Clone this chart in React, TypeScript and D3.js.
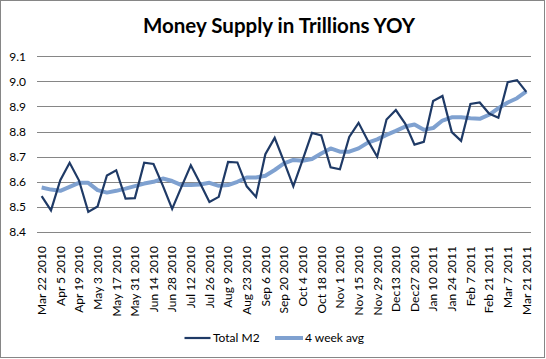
import React from "react";
import * as d3 from "d3";

const categories: string[] = [
  "Mar 22 2010", "Mar 29 2010", "Apr 5 2010", "Apr 12 2010", "Apr 19 2010", "Apr 26 2010",
  "May 3 2010", "May 10 2010", "May 17 2010", "May 24 2010", "May 31 2010", "Jun 7 2010",
  "Jun 14 2010", "Jun 21 2010", "Jun 28 2010", "Jul 5 2010", "Jul 12 2010", "Jul 19 2010",
  "Jul 26 2010", "Aug 2 2010", "Aug 9 2010", "Aug 16 2010", "Aug 23 2010", "Aug 30 2010",
  "Sep 6 2010", "Sep 13 2010", "Sep 20 2010", "Sep 27 2010", "Oct 4 2010", "Oct 11 2010",
  "Oct 18 2010", "Oct 25 2010", "Nov 1 2010", "Nov 8 2010", "Nov 15 2010", "Nov 22 2010",
  "Nov 29 2010", "Dec 6 2010", "Dec13 2010", "Dec 20 2010", "Dec27 2010", "Jan 3 2011",
  "Jan 10 2011", "Jan 17 2011", "Jan 24 2011", "Jan 31 2011", "Feb 7 2011", "Feb 14 2011",
  "Feb 21 2011", "Feb 28 2011", "Mar 7 2011", "Mar 14 2011", "Mar 21 2011",
];

const totalM2: number[] = [
  8.543, 8.486, 8.606, 8.676, 8.606, 8.48, 8.502, 8.625, 8.646, 8.533, 8.535, 8.676,
  8.671, 8.585, 8.492, 8.58, 8.666, 8.594, 8.52, 8.54, 8.679, 8.677, 8.582, 8.54,
  8.71, 8.775, 8.68, 8.582, 8.687, 8.795, 8.785, 8.658, 8.65, 8.779, 8.835, 8.764,
  8.7, 8.848, 8.886, 8.832, 8.748, 8.759, 8.922, 8.942, 8.798, 8.763, 8.91, 8.916,
  8.872, 8.855, 8.997, 9.005, 8.958,
];

const avg4: number[] = [
  8.577, 8.569, 8.564, 8.58, 8.596, 8.596, 8.567, 8.557, 8.564, 8.573, 8.583, 8.593,
  8.6, 8.613, 8.603, 8.587, 8.587, 8.589, 8.596, 8.584, 8.587, 8.6, 8.617, 8.617,
  8.624, 8.647, 8.673, 8.687, 8.684, 8.691, 8.713, 8.733, 8.72, 8.72, 8.733, 8.756,
  8.769, 8.787, 8.803, 8.82, 8.828, 8.807, 8.814, 8.844, 8.857, 8.857, 8.853, 8.851,
  8.867, 8.893, 8.916, 8.933, 8.96,
];

const yTicks: number[] = [8.4, 8.5, 8.6, 8.7, 8.8, 8.9, 9.0, 9.1];

const title = "Money Supply in Trillions YOY";
const seriesNames = ["Total M2", "4 week avg"];

const W = 546;
const H = 359;
const FONT = "Lato, 'Open Sans', sans-serif";

export default function App() {
  const x = d3
    .scaleBand<string>()
    .domain(categories)
    .range([37, 531])
    .paddingInner(0)
    .paddingOuter(0);
  const cx = (c: string) => (x(c) as number) + x.bandwidth() / 2;
  const y = d3.scaleLinear().domain([8.4, 9.1]).range([232, 56.3]);

  const lineM2 = d3
    .line<number>()
    .x((_, i) => cx(categories[i]))
    .y((d) => y(d));

  const darkColor = "#1F3A66";
  const lightColor = "#7FA1D0";
  const gridColor = "#868686";

  return (
    <svg
      width={W}
      height={H}
      style={{ position: "absolute", left: 0, top: 0, background: "#fff" }}
      fontFamily={FONT}
    >
      <rect x={0} y={0} width={W} height={H} fill="#fff" />
      <rect x={0.5} y={0.5} width={544} height={357} fill="none" stroke={gridColor} strokeWidth={1} />
      <text
        x={279}
        y={33}
        textAnchor="middle"
        fontWeight="bold"
        fontSize={21}
        textLength={272}
        lengthAdjust="spacingAndGlyphs"
        fill="#000"
      >
        {title}
      </text>
      {yTicks.map((t) => (
        <g key={t}>
          <line
            x1={37}
            x2={531}
            y1={Math.round(y(t)) + 0.5}
            y2={Math.round(y(t)) + 0.5}
            stroke={gridColor}
            strokeWidth={1}
          />
          <text x={26} y={y(t)} dy="0.35em" textAnchor="end" fontSize={12} fill="#000">
            {t.toFixed(1)}
          </text>
        </g>
      ))}
      {categories.map((c, i) =>
        i % 2 === 0 ? (
          <text
            key={c}
            transform={`translate(${cx(c)},246) rotate(-90)`}
            textAnchor="end"
            dy="0.36em"
            fontSize={12}
            fill="#000"
          >
            {c}
          </text>
        ) : null
      )}
      <path d={lineM2(avg4) || ""} fill="none" stroke={lightColor} strokeWidth={4} strokeLinejoin="round" />
      <path d={lineM2(totalM2) || ""} fill="none" stroke={darkColor} strokeWidth={2.2} strokeLinejoin="miter" />
      <g>
        <line x1={184.5} x2={210.5} y1={338} y2={338} stroke={darkColor} strokeWidth={2.2} />
        <text x={213} y={338} dy="0.35em" fontSize={12} fill="#000">
          {seriesNames[0]}
        </text>
        <line x1={275} x2={303} y1={338} y2={338} stroke={lightColor} strokeWidth={4} />
        <text x={305} y={338} dy="0.35em" fontSize={12} fill="#000">
          {seriesNames[1]}
        </text>
      </g>
    </svg>
  );
}
